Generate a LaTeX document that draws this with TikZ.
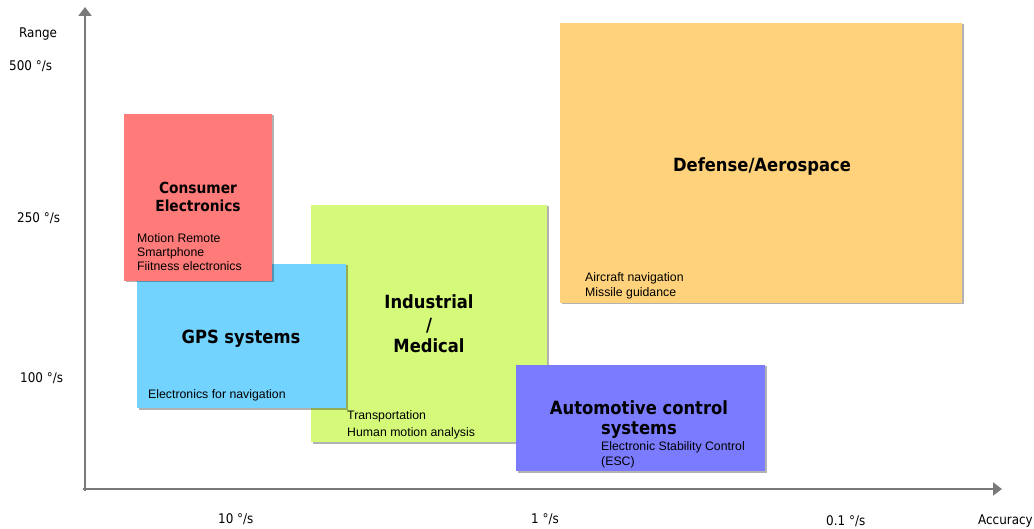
\documentclass[tikz,border=0pt]{standalone}
\usepackage{fontspec}
\setmainfont{Liberation Sans}
\newfontfamily\tah{DejaVu Sans Condensed}
\usetikzlibrary{arrows.meta,shadows}
\definecolor{cred}{HTML}{FF7B79}
\definecolor{cblue}{HTML}{73D3FF}
\definecolor{cgreen}{HTML}{D5FA7A}
\definecolor{cviolet}{HTML}{7B7BFF}
\definecolor{corange}{HTML}{FFD27B}
\definecolor{axgray}{HTML}{7A7A7A}
\begin{document}
\begin{tikzpicture}[x=1pt,y=-1pt,
 box/.style={draw=none, inner sep=0pt, outer sep=0pt, anchor=north west,
   drop shadow={shadow xshift=1.5pt, shadow yshift=-1.5pt, fill=black, opacity=0.3}},
 ttl/.style={font=\tah\bfseries\fontsize{18.2}{20}\selectfont, anchor=base, inner sep=0pt},
 ttls/.style={font=\tah\bfseries\fontsize{15.3}{18}\selectfont, anchor=base, inner sep=0pt},
 sml/.style={font=\fontsize{12.3}{14}\selectfont, anchor=base west, inner sep=0pt},
 axl/.style={font=\tah\fontsize{13.3}{15}\selectfont, anchor=base west, inner sep=0pt},
 axis/.style={draw=axgray, line width=2.5pt, -{Triangle[length=9pt,width=13pt]}}]
\useasboundingbox (0,0) rectangle (1034,529);
% axes
\coordinate (O) at (85,489);
\coordinate (ytip) at (85,7);
\coordinate (xtip) at (1002,489);
\draw[axis] (85,491) -- (ytip);
\draw[axis] (83,489) -- (xtip);
% axis labels
\node[axl] (range) at (19,38) {Range};
\node[axl] (y500) at (9,71) {500 °/s};
\node[axl] (y250) at (17,223) {250 °/s};
\node[axl] (y100) at (20,383) {100 °/s};
\node[axl] (x10) at (218,523) {10 °/s};
\node[axl] (x1) at (531,523) {1 °/s};
\node[axl] (x01) at (826,525) {0.1 °/s};
\node[axl] (acc) at (978,524) {Accuracy};
% Industrial / Medical
\node[box, fill=cgreen, minimum width=236pt, minimum height=237pt] (ind) at (311,205) {};
\node[ttl] (indt1) at (429,309) {Industrial};
\node[ttl] (indt2) at (429,332) {/};
\node[ttl] (indt3) at (429,353) {Medical};
\node[sml] (inds1) at (347,419) {Transportation};
\node[sml] (inds2) at (347,436) {Human motion analysis};
% GPS
\node[box, fill=cblue, minimum width=209pt, minimum height=144pt] (gps) at (137,264) {};
\node[ttl] (gpst) at (241,344) {GPS systems};
\node[sml] (gpss) at (148,399) {Electronics for navigation};
% Consumer
\node[box, fill=cred, minimum width=148pt, minimum height=167pt] (cons) at (124,114) {};
\node[ttls] (const1) at (198,194) {Consumer};
\node[ttls] (const2) at (198,212) {Electronics};
\node[sml] (conss1) at (137,243) {Motion Remote};
\node[sml] (conss2) at (137,257) {Smartphone};
\node[sml] (conss3) at (137,271) {Fiitness electronics};
% Automotive
\node[box, fill=cviolet, minimum width=249pt, minimum height=106pt] (auto) at (516,365) {};
\node[ttl] (autot1) at (639,414) {Automotive control};
\node[ttl] (autot2) at (639,434) {systems};
\node[sml] (autos1) at (601,450) {Electronic Stability Control};
\node[sml] (autos2) at (601,465) {(ESC)};
% Defense
\node[box, fill=corange, minimum width=402pt, minimum height=280pt] (def) at (560,23) {};
\node[ttl] (deft) at (762,172) {Defense/Aerospace};
\node[sml] (defs1) at (585,282) {Aircraft navigation};
\node[sml] (defs2) at (585,297) {Missile guidance};
\end{tikzpicture}
\end{document}
